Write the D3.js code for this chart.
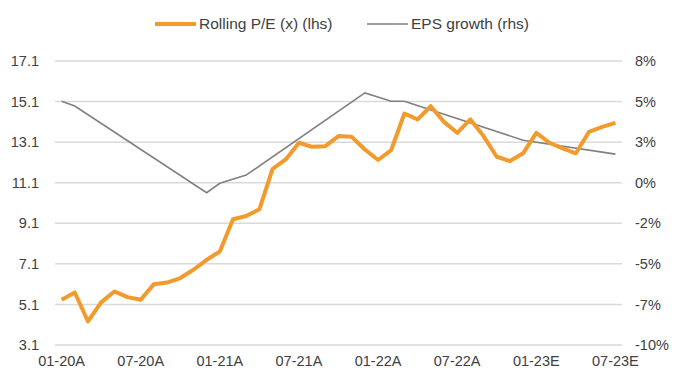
<!DOCTYPE html>
<html>
<head>
<meta charset="utf-8">
<script src="https://cdn.jsdelivr.net/npm/d3@7"></script>
<style>
  body { margin: 0; background: #fff; }
  text { font-family: "Liberation Sans", Arial, sans-serif; fill: #404040; }
</style>
</head>
<body>
<div id="chart"></div>
<script>
// monthly categories 01-20 .. 07-23
const months = [];
for (let y = 20; y <= 23; y++) {
  for (let m = 1; m <= 12; m++) {
    if (y === 23 && m > 7) break;
    months.push(String(m).padStart(2, "0") + "-" + y + (y >= 23 ? "E" : "A"));
  }
}

const rollingPE = [
  5.33, 5.69, 4.26, 5.2, 5.74, 5.46, 5.33, 6.1, 6.18, 6.4, 6.81, 7.3,
  7.71, 9.3, 9.46, 9.79, 11.78, 12.25, 13.07, 12.87, 12.9, 13.4, 13.36, 12.74,
  12.22, 12.71, 14.51, 14.22, 14.87, 14.1, 13.56, 14.22, 13.4, 12.38, 12.17, 12.55,
  13.56, 13.07, 12.79, 12.55, 13.61, 13.85, 14.05
];

// EPS growth only has values at some months; gaps are bridged by straight lines
const epsGrowth = [
  5.45, 5.15, null, null, null, null, null, null, null, null, null, -0.35,
  0.25, null, 0.77, null, null, null, null, null, null, null, null, 5.98,
  null, 5.45, 5.45, null, null, null, null, null, null, null, null, 2.98,
  null, null, null, null, null, null, 2.1
];

const leftTicks = [3.1, 5.1, 7.1, 9.1, 11.1, 13.1, 15.1, 17.1];
const rightDomain = [-10, 8];
const xTickLabels = ["01-20A", "07-20A", "01-21A", "07-21A", "01-22A", "07-22A", "01-23E", "07-23E"];

const width = 694, height = 377;
const margin = { top: 61, right: 72, bottom: 32, left: 55 };

const svg = d3.select("#chart").append("svg")
  .attr("width", width)
  .attr("height", height);

const x = d3.scaleBand()
  .domain(months)
  .range([margin.left, width - margin.right]);

const yL = d3.scaleLinear()
  .domain([3.1, 17.1])
  .range([height - margin.bottom, margin.top]);

const yR = d3.scaleLinear()
  .domain(rightDomain)
  .range([height - margin.bottom, margin.top]);

const cx = (d) => x(d) + x.bandwidth() / 2;

// gridlines
svg.append("g")
  .selectAll("line")
  .data(leftTicks)
  .enter()
  .append("line")
  .attr("x1", margin.left)
  .attr("x2", width - margin.right)
  .attr("y1", (d) => yL(d))
  .attr("y2", (d) => yL(d))
  .style("stroke", "#d9d9d9")
  .style("stroke-width", "1.5px");

// left axis labels
svg.append("g")
  .selectAll("text")
  .data(leftTicks)
  .enter()
  .append("text")
  .attr("x", 39)
  .attr("y", (d) => yL(d))
  .attr("dy", "0.35em")
  .attr("text-anchor", "end")
  .style("font-size", "14.5px")
  .text((d) => d.toFixed(1));

// right axis labels: 8 evenly spaced ticks, shown rounded
const rightTicks = d3.range(8).map((i) => rightDomain[1] - i * (rightDomain[1] - rightDomain[0]) / 7);
svg.append("g")
  .selectAll("text")
  .data(rightTicks)
  .enter()
  .append("text")
  .attr("x", 635)
  .attr("y", (d) => yR(d))
  .attr("dy", "0.35em")
  .attr("text-anchor", "start")
  .style("font-size", "14.5px")
  .text((d) => Math.round(d) + "%");

// x labels
svg.append("g")
  .selectAll("text")
  .data(xTickLabels)
  .enter()
  .append("text")
  .attr("x", (d) => cx(d))
  .attr("y", 366)
  .attr("text-anchor", "middle")
  .style("font-size", "14.5px")
  .text((d) => d);

// EPS growth line (rhs)
const epsPoints = months
  .map((m, i) => ({ m, v: epsGrowth[i] }))
  .filter((d) => d.v !== null);

svg.append("path")
  .datum(epsPoints)
  .attr("d", d3.line().x((d) => cx(d.m)).y((d) => yR(d.v)))
  .style("fill", "none")
  .style("stroke", "#808080")
  .style("stroke-width", "1.6px");

// Rolling P/E line (lhs)
svg.append("path")
  .datum(months.map((m, i) => ({ m, v: rollingPE[i] })))
  .attr("d", d3.line().x((d) => cx(d.m)).y((d) => yL(d.v)))
  .style("fill", "none")
  .style("stroke", "#f39a2c")
  .style("stroke-width", "4px")
  .style("stroke-linejoin", "round");

// legend
const legend = [
  { label: "Rolling P/E (x) (lhs)", color: "#f39a2c", w: 4, x: 155 },
  { label: "EPS growth (rhs)", color: "#808080", w: 1.6, x: 367 },
];
const lg = svg.append("g")
  .selectAll("g")
  .data(legend)
  .enter()
  .append("g");
lg.append("line")
  .attr("x1", (d) => d.x)
  .attr("x2", (d) => d.x + 41)
  .attr("y1", 24)
  .attr("y2", 24)
  .style("stroke", (d) => d.color)
  .style("stroke-width", (d) => d.w + "px");
lg.append("text")
  .attr("x", (d) => d.x + 44)
  .attr("y", 24)
  .attr("dy", "0.35em")
  .style("font-size", "15.5px")
  .text((d) => d.label);
</script>
</body>
</html>
